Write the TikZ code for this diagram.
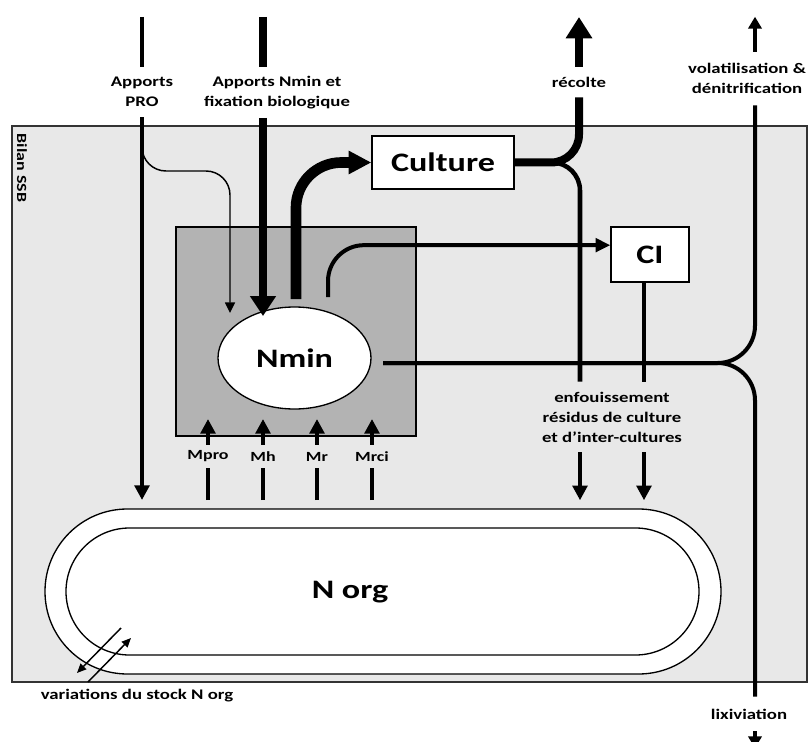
\documentclass[tikz,border=0pt]{standalone}
\usepackage{fontspec}
\setmainfont{Carlito}[FakeStretch=1.28]
\usetikzlibrary{arrows.meta,shapes.geometric}
\definecolor{ssbgray}{HTML}{E8E8E8}
\definecolor{poolgray}{HTML}{B3B3B3}

\begin{document}
\begin{tikzpicture}[x=0.75pt, y=-0.75pt,
    lbl/.style={inner sep=0pt, align=center, font=\bfseries\fontsize{11}{15}\selectfont},
    mlbl/.style={inner sep=0pt, font=\bfseries\fontsize{10.5}{12}\selectfont, minimum height=17.25pt},
    big/.style={font=\bfseries\fontsize{20}{24}\selectfont},
    box/.style={draw, fill=white, line width=1pt, big},
    arrowhead/.style 2 args={-{Triangle[width=#1, length=#2]}}]
        \useasboundingbox (0,0) rectangle (808,742);

        % Compartments
        \draw[fill=ssbgray, draw=black!80, line width=1.1pt] (12,126) rectangle (807,682);
        \node(ssb) [inner sep=0pt, font=\bfseries\fontsize{10.5}{12}\selectfont, rotate=-90] at (22,168) {Bilan SSB};
        \node(pool) [draw, fill=poolgray, line width=1pt, inner sep=0pt, minimum width=180pt, minimum height=156.75pt] at (296,331.5) {};
        \draw[fill=white, line width=1pt, rounded corners=61.8pt] (45,509) rectangle (721,674);
        \draw[line width=1pt, rounded corners=47.6pt] (66,528) rectangle (699,655);

        % Nodes
        \node(norg) [big] at (350,592) {N org};
        \node(nmin) [ellipse, draw, fill=white, line width=1pt, minimum width=114.75pt, minimum height=76.5pt, big] at (294.5,358) {Nmin};
        \node(culture) [box, minimum width=106.5pt, minimum height=39.75pt] at (443,162.5) {Culture};
        \node(ci) [box, minimum width=58.5pt, minimum height=41.25pt] at (650,254.5) {CI};

        % Labels
        \node(pro) [lbl, minimum height=37.5pt] at (142,92) {Apports\\PRO};
        \node(apmin) [lbl, minimum height=37.5pt] at (277,92.5) {Apports Nmin et\\fixation biologique};
        \node(rec) [lbl, minimum height=22.5pt] at (579,82) {récolte};
        \node(vol) [lbl, minimum height=39.75pt] at (747,78.5) {volatilisation \&\\dénitrification};
        \node(enf) [lbl, minimum height=52.5pt] at (612,417) {enfouissement\\résidus de culture\\et d’inter-cultures};
        \node(lix) [lbl, minimum height=25.5pt] at (749,714) {lixiviation};
        \node(var) [lbl] at (137,696) {variations du stock N org};
        \node(mpro) [mlbl] at (208,456.5) {Mpro};
        \node(mh) [mlbl] at (263,456.5) {Mh};
        \node(mr) [mlbl] at (317,456.5) {Mr};
        \node(mrci) [mlbl] at (372,456.5) {Mrci};

        % Inputs
        \coordinate(proin) at (142,17);
        \coordinate(apminin) at (263,17);
        \draw[line width=3.5pt] (proin) -- (pro.north);
        \draw[line width=3.5pt, arrowhead={11pt}{11pt}] (pro.south) -- (142,500);
        \draw[line width=1.1pt, rounded corners=18pt, arrowhead={7.5pt}{8pt}] (142,147) |- (230,171) -- (230,313);
        \draw[line width=6pt] (apminin) -- (apminin |- apmin.north);
        \draw[line width=6pt, arrowhead={18.75pt}{15pt}] (apminin |- apmin.south) -- (263,316);

        % Uptake
        \draw[line width=8pt, rounded corners=34pt, arrowhead={16.5pt}{17pt}] (296,299) |- (culture.west);
        \draw[line width=3pt, rounded corners=27pt, arrowhead={10pt}{11pt}] (328,297) |- ([yshift=7pt]ci.west);

        % Harvest and residues
        \draw[line width=3.4pt, rounded corners=21pt] (culture.east) -| ([xshift=-24pt]enf.north);
        \draw[line width=6pt, rounded corners=21pt] (culture.east) -| (rec.south);
        \draw[line width=6pt, arrowhead={19pt}{16pt}] (rec.north) -- (579,17);
        \draw[line width=3pt] ([xshift=-4.5pt]ci.south) -- ([xshift=24pt]enf.north);
        \draw[line width=3.4pt, arrowhead={11pt}{11pt}] ([xshift=-24pt]enf.south) -- +(0,48);
        \draw[line width=3.4pt, arrowhead={11pt}{11pt}] ([xshift=24pt]enf.south) -- +(0,48);

        % Losses
        \coordinate(nminout) at (383,363);
        \draw[line width=3pt, rounded corners=28pt] (nminout) -| ([xshift=6pt]vol.south);
        \draw[line width=3pt, rounded corners=28pt] (nminout) -| ([xshift=4.5pt]lix.north);
        \draw[line width=3pt, arrowhead={10pt}{9pt}] ([xshift=6pt]vol.north) -- +(0,-35);
        \draw[line width=3pt, arrowhead={10pt}{9pt}] ([xshift=4.5pt]lix.south) -- +(0,17);

        % Mineralisation
        \draw[line width=3.4pt] (208,500) -- (mpro.south);
        \draw[line width=3.4pt, arrowhead={11pt}{11pt}] (mpro.north) -- (208,419);
        \draw[line width=3.4pt] (263,500) -- (mh.south);
        \draw[line width=3.4pt, arrowhead={11pt}{11pt}] (mh.north) -- (263,419);
        \draw[line width=3.4pt] (317,500) -- (mr.south);
        \draw[line width=3.4pt, arrowhead={11pt}{11pt}] (mr.north) -- (317,419);
        \draw[line width=3.4pt] (372,500) -- (mrci.south);
        \draw[line width=3.4pt, arrowhead={11pt}{11pt}] (mrci.north) -- (372,419);

        % Stock variation
        \draw[line width=1.1pt, arrowhead={6pt}{7pt}] (121,628) -- (77,673);
        \draw[line width=1.1pt, arrowhead={6pt}{7pt}] (88,682) -- (131,638);
    \end{tikzpicture}
\end{document}
